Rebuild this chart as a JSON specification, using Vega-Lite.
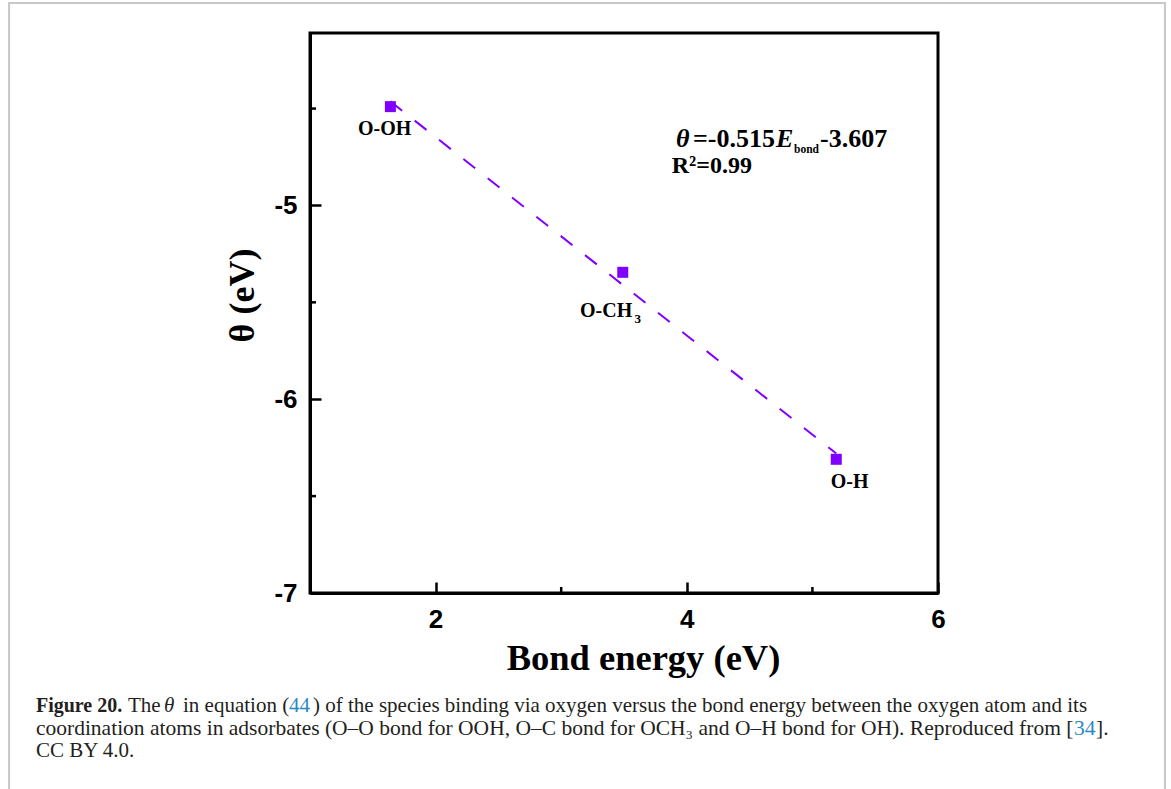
{
  "$schema": "https://vega.github.io/schema/vega-lite/v6.json",
  "width": 628,
  "height": 560,
  "autosize": "none",
  "padding": {"left": 310, "top": 33, "right": 233, "bottom": 196},
  "background": "white",
  "config": {
    "view": {"stroke": "black", "strokeWidth": 3},
    "text": {"font": "Liberation Serif", "baseline": "alphabetic", "align": "left", "color": "black"}
  },
  "encoding": {
    "x": {
      "field": "x", "type": "quantitative",
      "scale": {"domain": [1, 6], "nice": false, "zero": false},
      "axis": {
        "title": "Bond energy (eV)", "values": [2, 4, 6], "labelExpr": "'' + datum.value",
        "grid": false, "labelFlush": false,
        "domainColor": "black", "domainWidth": 3,
        "tickColor": "black", "tickWidth": 2.5, "tickSize": -11,
        "labelFont": "Liberation Sans", "labelFontWeight": "bold", "labelFontSize": 26, "labelColor": "black", "labelPadding": 24,
        "titleFont": "Liberation Serif", "titleFontSize": 36.5, "titleFontWeight": "bold", "titleColor": "black", "titlePadding": 8,
        "titleX": 333
      }
    },
    "y": {
      "field": "y", "type": "quantitative",
      "scale": {"domain": [-7, -4.11], "nice": false, "zero": false},
      "axis": {
        "title": "θ (eV)", "values": [-7, -6, -5], "labelExpr": "'' + datum.value",
        "grid": false,
        "domainColor": "black", "domainWidth": 3,
        "tickColor": "black", "tickWidth": 2.5, "tickSize": -11,
        "labelFont": "Liberation Sans", "labelFontWeight": "bold", "labelFontSize": 26, "labelColor": "black", "labelPadding": 24,
        "titleFont": "Liberation Serif", "titleFontSize": 36, "titleFontWeight": "bold", "titleColor": "black", "titlePadding": 12,
        "titleY": 262
      }
    }
  },
  "layer": [
    {
      "data": {"values": [{"x": -1.396, "y": -3.955, "x2": 7.807, "y2": -8.068}]},
      "mark": {"type": "rect", "fillOpacity": 0, "stroke": "#c8c8c8", "strokeWidth": 2},
      "encoding": {"x2": {"field": "x2"}, "y2": {"field": "y2"}}
    },
    {
      "data": {"values": [
        {"x": 3, "y": -7, "x2": 3, "y2": -6.969},
        {"x": 5, "y": -7, "x2": 5, "y2": -6.969},
        {"x": 1, "y": -4.5, "x2": 1.048, "y2": -4.5},
        {"x": 1, "y": -5.5, "x2": 1.048, "y2": -5.5},
        {"x": 1, "y": -6.5, "x2": 1.048, "y2": -6.5}
      ]},
      "mark": {"type": "rule", "color": "black", "strokeWidth": 2.5},
      "encoding": {"x2": {"field": "x2"}, "y2": {"field": "y2"}}
    },
    {
      "data": {"values": [{"x": 1.64, "y": -4.463}, {"x": 5.19, "y": -6.28}]},
      "mark": {"type": "line", "color": "#8000ff", "strokeWidth": 2, "strokeDash": [15, 16]},
      "encoding": {}
    },
    {
      "data": {"values": [
        {"species": "OOH", "x": 1.64, "y": -4.49},
        {"species": "OCH3", "x": 3.49, "y": -5.345},
        {"species": "OH", "x": 5.19, "y": -6.31}
      ]},
      "mark": {"type": "square", "size": 121, "color": "#8000ff", "opacity": 1, "filled": true},
      "encoding": {}
    },
    {
      "data": {"values": [
        {"x": 1.382, "y": -4.636, "text": "O-OH"},
        {"x": 3.15, "y": -5.574, "text": "O-CH"},
        {"x": 5.146, "y": -6.46, "text": "O-H"}
      ]},
      "mark": {"type": "text", "fontWeight": "bold", "fontSize": 20},
      "encoding": {"text": {"field": "text"}}
    },
    {
      "data": {"values": [{"x": 3.584, "y": -5.609, "text": "3"}]},
      "mark": {"type": "text", "fontWeight": "bold", "fontSize": 13},
      "encoding": {"text": {"field": "text"}}
    },
    {
      "data": {"values": [{"x": 3.914, "y": -4.697, "text": "θ"}, {"x": 4.71, "y": -4.697, "text": "E"}]},
      "mark": {"type": "text", "fontWeight": "bold", "fontStyle": "italic", "fontSize": 26},
      "encoding": {"text": {"field": "text"}}
    },
    {
      "data": {"values": [{"x": 4.049, "y": -4.697, "text": "=-0.515"}, {"x": 5.061, "y": -4.697, "text": "-3.607"}]},
      "mark": {"type": "text", "fontWeight": "bold", "fontSize": 26},
      "encoding": {"text": {"field": "text"}}
    },
    {
      "data": {"values": [{"x": 3.88, "y": -4.834, "text": "R²=0.99"}]},
      "mark": {"type": "text", "fontWeight": "bold", "fontSize": 24},
      "encoding": {"text": {"field": "text"}}
    },
    {
      "data": {"values": [{"x": 4.854, "y": -4.729, "text": "bond"}]},
      "mark": {"type": "text", "fontWeight": "bold", "fontSize": 11.5},
      "encoding": {"text": {"field": "text"}}
    },
    {
      "data": {"values": [{"x": -1.182, "y": -7.614, "text": "Figure 20."}]},
      "mark": {"type": "text", "fontWeight": "bold", "fontSize": 20, "color": "#231f20"},
      "encoding": {"text": {"field": "text"}}
    },
    {
      "data": {"values": [{"x": -0.162, "y": -7.614, "text": "θ"}]},
      "mark": {"type": "text", "fontStyle": "italic", "fontSize": 21, "color": "#231f20"},
      "encoding": {"text": {"field": "text"}}
    },
    {
      "data": {"values": [
        {"x": -0.449, "y": -7.614, "text": "The"},
        {"x": -0.011, "y": -7.614, "text": "in equation ("},
        {"x": 1.024, "y": -7.614, "text": ") of the species binding via oxygen versus the bond energy between the oxygen atom and its"},
        {"x": -1.182, "y": -7.846, "text": "CC BY 4.0."}
      ]},
      "mark": {"type": "text", "fontSize": 21, "color": "#231f20"},
      "encoding": {"text": {"field": "text"}}
    },
    {
      "data": {"values": [
        {"x": -1.182, "y": -7.733, "text": "coordination atoms in adsorbates (O–O bond for OOH, O–C bond for OCH₃ and O–H bond for OH). Reproduced from ["},
        {"x": 7.258, "y": -7.733, "text": "]."}
      ]},
      "mark": {"type": "text", "fontSize": 21.5, "color": "#231f20"},
      "encoding": {"text": {"field": "text"}}
    },
    {
      "data": {"values": [{"x": 0.833, "y": -7.614, "text": "44"}]},
      "mark": {"type": "text", "fontSize": 21, "color": "#2a8ac4"},
      "encoding": {"text": {"field": "text"}}
    },
    {
      "data": {"values": [{"x": 7.083, "y": -7.733, "text": "34"}]},
      "mark": {"type": "text", "fontSize": 21.5, "color": "#2a8ac4"},
      "encoding": {"text": {"field": "text"}}
    }
  ]
}
